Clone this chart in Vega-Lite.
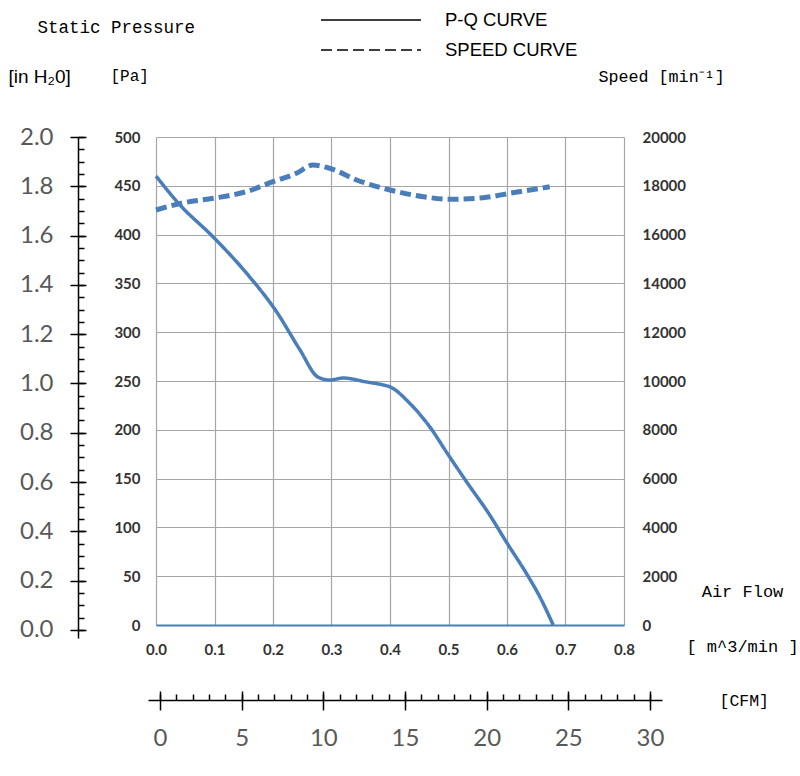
{
  "$schema": "https://vega.github.io/schema/vega-lite/v6.json",
  "width": 468,
  "height": 488,
  "autosize": {"type": "none"},
  "padding": {"left": 156, "top": 137, "right": 176, "bottom": 151},
  "background": "white",
  "config": {"view": {"stroke": null}},
  "data": {
    "values": [
      {"series": "P-Q CURVE", "flow": 0.0, "value": 460},
      {"series": "P-Q CURVE", "flow": 0.04, "value": 431},
      {"series": "P-Q CURVE", "flow": 0.097, "value": 398},
      {"series": "P-Q CURVE", "flow": 0.154, "value": 361},
      {"series": "P-Q CURVE", "flow": 0.206, "value": 321},
      {"series": "P-Q CURVE", "flow": 0.246, "value": 282},
      {"series": "P-Q CURVE", "flow": 0.277, "value": 254},
      {"series": "P-Q CURVE", "flow": 0.297, "value": 251},
      {"series": "P-Q CURVE", "flow": 0.32, "value": 253},
      {"series": "P-Q CURVE", "flow": 0.36, "value": 249},
      {"series": "P-Q CURVE", "flow": 0.388, "value": 246},
      {"series": "P-Q CURVE", "flow": 0.4, "value": 244},
      {"series": "P-Q CURVE", "flow": 0.434, "value": 227},
      {"series": "P-Q CURVE", "flow": 0.468, "value": 203},
      {"series": "P-Q CURVE", "flow": 0.5, "value": 174},
      {"series": "P-Q CURVE", "flow": 0.534, "value": 144},
      {"series": "P-Q CURVE", "flow": 0.568, "value": 115},
      {"series": "P-Q CURVE", "flow": 0.6, "value": 84},
      {"series": "P-Q CURVE", "flow": 0.633, "value": 53},
      {"series": "P-Q CURVE", "flow": 0.656, "value": 29},
      {"series": "P-Q CURVE", "flow": 0.679, "value": 0},
      {"series": "SPEED CURVE", "flow": 0.0, "value": 17008},
      {"series": "SPEED CURVE", "flow": 0.045, "value": 17295},
      {"series": "SPEED CURVE", "flow": 0.098, "value": 17488},
      {"series": "SPEED CURVE", "flow": 0.154, "value": 17758},
      {"series": "SPEED CURVE", "flow": 0.2, "value": 18168},
      {"series": "SPEED CURVE", "flow": 0.24, "value": 18512},
      {"series": "SPEED CURVE", "flow": 0.268, "value": 18850},
      {"series": "SPEED CURVE", "flow": 0.297, "value": 18717},
      {"series": "SPEED CURVE", "flow": 0.343, "value": 18238},
      {"series": "SPEED CURVE", "flow": 0.4, "value": 17828},
      {"series": "SPEED CURVE", "flow": 0.457, "value": 17553},
      {"series": "SPEED CURVE", "flow": 0.503, "value": 17447},
      {"series": "SPEED CURVE", "flow": 0.559, "value": 17512},
      {"series": "SPEED CURVE", "flow": 0.605, "value": 17693},
      {"series": "SPEED CURVE", "flow": 0.673, "value": 17963}
    ]
  },
  "layer": [
    {
      "transform": [{"filter": "datum.series === 'P-Q CURVE'"}],
      "mark": {"type": "line", "color": "#4a7ebb", "strokeWidth": 3.5, "interpolate": "monotone"},
      "encoding": {
        "x": {
          "field": "flow", "type": "quantitative",
          "scale": {"domain": [0, 0.8], "nice": false, "zero": false},
          "axis": {
            "values": [0, 0.1, 0.2, 0.3, 0.4, 0.5, 0.6, 0.7, 0.8], "format": ".1f", "labelFlush": false,
            "grid": true, "gridColor": "#a6a6a6", "gridWidth": 1.2,
            "domain": true, "domainColor": "#4a7ebb", "domainWidth": 2,
            "ticks": false, "tickSize": 0,
            "labelFont": "Lato", "labelFontSize": 15, "labelFontWeight": "bold", "labelColor": "#333333", "labelPadding": 17,
            "title": ["Air Flow", "[ m^3/min ]"],
            "titleFont": "Liberation Mono", "titleFontSize": 17, "titleFontWeight": "normal", "titleColor": "black",
            "titleX": 586, "titleY": -42, "titleAlign": "center", "titleBaseline": "top", "titleAngle": 0, "titleLineHeight": 55
          }
        },
        "y": {
          "field": "value", "type": "quantitative",
          "scale": {"domain": [0, 500], "nice": false},
          "axis": {
            "values": [0, 50, 100, 150, 200, 250, 300, 350, 400, 450, 500], "labelFlush": false,
            "grid": true, "gridColor": "#a6a6a6", "gridWidth": 1.2,
            "domain": false, "ticks": false, "tickSize": 0,
            "labelFont": "Lato", "labelFontSize": 15, "labelFontWeight": "bold", "labelColor": "#333333", "labelPadding": 16,
            "title": "[Pa]", "titleFont": "Liberation Mono", "titleFontSize": 16, "titleFontWeight": "normal", "titleColor": "black",
            "titleX": -46, "titleY": -62, "titleAlign": "left", "titleBaseline": "middle", "titleAngle": 0
          }
        },
        "strokeDash": {
          "field": "series", "type": "nominal",
          "scale": {"domain": ["P-Q CURVE", "SPEED CURVE"], "range": [[1, 0], [11, 5]]},
          "legend": {
            "orient": "none", "legendX": 239, "legendY": -130.5, "title": null, "padding": 0,
            "symbolType": "M-7,0H1", "symbolSize": 625, "symbolStrokeColor": "black", "symbolStrokeWidth": 1.5,
            "labelFont": "Liberation Sans", "labelFontSize": 18.5, "labelColor": "black", "labelOffset": 23,
            "rowPadding": 7,
            "encode": {
              "symbols": {
                "update": {
                  "stroke": {"value": "black"},
                  "strokeWidth": {"value": 1.5},
                  "strokeDash": [
                    {"test": "datum.label === 'SPEED CURVE'", "value": [9, 3.5]},
                    {"value": [1, 0]}
                  ]
                }
              }
            }
          }
        }
      }
    },
    {
      "transform": [{"filter": "datum.series === 'SPEED CURVE'"}],
      "mark": {"type": "line", "color": "#4a7ebb", "strokeWidth": 5, "interpolate": "monotone"},
      "encoding": {
        "x": {"field": "flow", "type": "quantitative", "scale": {"domain": [0, 0.8], "nice": false, "zero": false}, "axis": null},
        "y": {
          "field": "value", "type": "quantitative",
          "scale": {"domain": [0, 20000], "nice": false},
          "axis": {
            "orient": "right", "labelFlush": false,
            "values": [0, 2000, 4000, 6000, 8000, 10000, 12000, 14000, 16000, 18000, 20000], "format": "d",
            "grid": false, "domain": false, "ticks": false, "tickSize": 0,
            "labelFont": "Lato", "labelFontSize": 15, "labelFontWeight": "bold", "labelColor": "#333333", "labelPadding": 18,
            "title": "Speed [min⁻¹]", "titleFont": "Liberation Mono", "titleFontSize": 16.7, "titleFontWeight": "normal", "titleColor": "black",
            "titleX": -26, "titleY": -61, "titleAlign": "left", "titleBaseline": "middle", "titleAngle": 0
          }
        },
        "strokeDash": {"field": "series", "type": "nominal"}
      }
    },
    {
      "transform": [{"filter": "datum.series === 'P-Q CURVE'"}],
      "mark": {"type": "point", "opacity": 0},
      "encoding": {
        "y": {
          "field": "value", "type": "quantitative",
          "scale": {"domain": [-0.0325, 2.0], "range": [501, 0], "nice": false, "zero": false},
          "axis": {
            "orient": "left", "offset": 78,
            "domain": true, "domainColor": "black", "domainWidth": 1.5,
            "ticks": false, "labels": false, "grid": false,
            "title": "Static Pressure", "titleFont": "Liberation Mono", "titleFontSize": 17.5, "titleFontWeight": "normal", "titleColor": "black",
            "titleX": -41, "titleY": -110, "titleAlign": "left", "titleBaseline": "middle", "titleAngle": 0
          }
        }
      }
    },
    {
      "transform": [{"filter": "datum.series === 'P-Q CURVE'"}],
      "mark": {"type": "point", "opacity": 0},
      "encoding": {
        "y": {
          "field": "value", "type": "quantitative",
          "scale": {"domain": [-0.0325, 2.0], "range": [501, 0], "nice": false, "zero": false},
          "axis": {
            "orient": "left", "offset": 70, "labelFlush": false,
            "values": [0, 0.2, 0.4, 0.6, 0.8, 1.0, 1.2, 1.4, 1.6, 1.8, 2.0], "format": ".1f",
            "domain": false, "grid": false,
            "ticks": true, "tickSize": 16, "tickColor": "black", "tickWidth": 1.5,
            "labelFont": "Lato", "labelFontSize": 24, "labelColor": "#595959", "labelPadding": 17,
            "title": "[in H₂0]", "titleFont": "Liberation Sans", "titleFontSize": 19, "titleFontWeight": "normal", "titleColor": "black",
            "titleX": -78, "titleY": -61, "titleAlign": "left", "titleBaseline": "middle", "titleAngle": 0
          }
        }
      }
    },
    {
      "transform": [{"filter": "datum.series === 'P-Q CURVE'"}],
      "mark": {"type": "point", "opacity": 0},
      "encoding": {
        "y": {
          "field": "value", "type": "quantitative",
          "scale": {"domain": [-0.0325, 2.0], "range": [501, 0], "nice": false, "zero": false},
          "axis": {
            "orient": "left", "offset": 72,
            "values": [0, 0.05, 0.1, 0.15, 0.2, 0.25, 0.3, 0.35, 0.4, 0.45, 0.5, 0.55, 0.6, 0.65, 0.7, 0.75, 0.8, 0.85, 0.9, 0.95, 1.0, 1.05, 1.1, 1.15, 1.2, 1.25, 1.3, 1.35, 1.4, 1.45, 1.5, 1.55, 1.6, 1.65, 1.7, 1.75, 1.8, 1.85, 1.9, 1.95, 2.0],
            "domain": false, "grid": false, "labels": false,
            "ticks": true, "tickSize": 6, "tickColor": "black", "tickWidth": 1.5,
            "title": null
          }
        }
      }
    },
    {
      "transform": [{"filter": "datum.series === 'P-Q CURVE'"}],
      "mark": {"type": "point", "opacity": 0},
      "encoding": {
        "x": {
          "field": "flow", "type": "quantitative",
          "scale": {"domain": [-0.735, 30.735], "range": [-8, 506], "nice": false, "zero": false},
          "axis": {
            "orient": "bottom", "offset": 75,
            "domain": true, "domainColor": "black", "domainWidth": 1.5,
            "ticks": false, "labels": false, "grid": false,
            "title": "[CFM]", "titleFont": "Liberation Mono", "titleFontSize": 16.5, "titleFontWeight": "normal", "titleColor": "black",
            "titleX": 563, "titleY": 0, "titleAlign": "left", "titleBaseline": "middle", "titleAngle": 0
          }
        }
      }
    },
    {
      "transform": [{"filter": "datum.series === 'P-Q CURVE'"}],
      "mark": {"type": "point", "opacity": 0},
      "encoding": {
        "x": {
          "field": "flow", "type": "quantitative",
          "scale": {"domain": [-0.735, 30.735], "range": [-8, 506], "nice": false, "zero": false},
          "axis": {
            "orient": "bottom", "offset": 66, "labelFlush": false,
            "values": [0, 5, 10, 15, 20, 25, 30], "format": "d",
            "domain": false, "grid": false,
            "ticks": true, "tickSize": 19, "tickColor": "black", "tickWidth": 1.5,
            "labelFont": "Lato", "labelFontSize": 24, "labelColor": "#595959", "labelPadding": 16,
            "title": null
          }
        }
      }
    },
    {
      "transform": [{"filter": "datum.series === 'P-Q CURVE'"}],
      "mark": {"type": "point", "opacity": 0},
      "encoding": {
        "x": {
          "field": "flow", "type": "quantitative",
          "scale": {"domain": [-0.735, 30.735], "range": [-8, 506], "nice": false, "zero": false},
          "axis": {
            "orient": "bottom", "offset": 69,
            "values": [0, 1, 2, 3, 4, 5, 6, 7, 8, 9, 10, 11, 12, 13, 14, 15, 16, 17, 18, 19, 20, 21, 22, 23, 24, 25, 26, 27, 28, 29, 30],
            "domain": false, "grid": false, "labels": false,
            "ticks": true, "tickSize": 6, "tickColor": "black", "tickWidth": 1.5,
            "title": null
          }
        }
      }
    }
  ],
  "resolve": {"scale": {"x": "independent", "y": "independent"}}
}
